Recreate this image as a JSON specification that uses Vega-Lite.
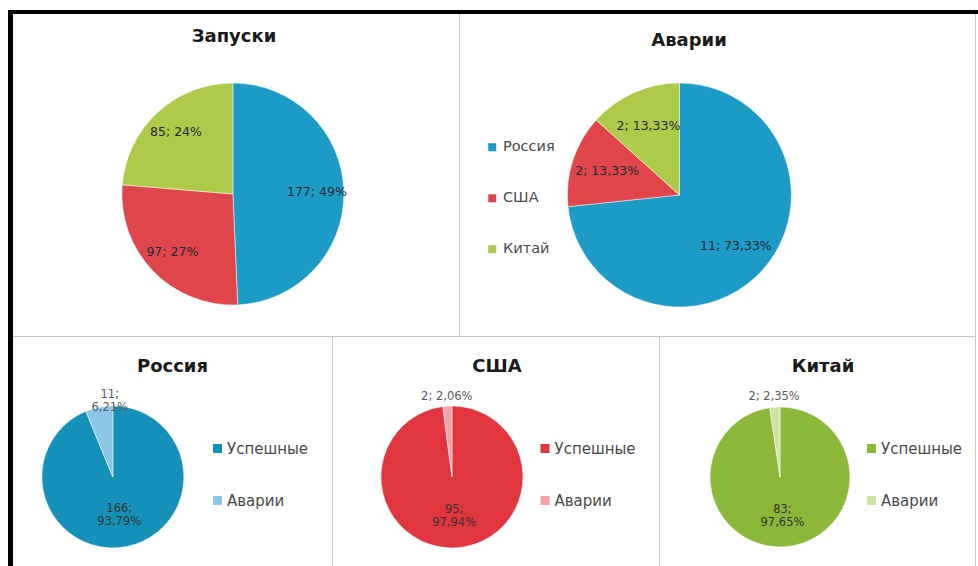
{
  "$schema": "https://vega.github.io/schema/vega-lite/v6.json",
  "padding": 0,
  "background": "white",
  "spacing": 0,
  "resolve": {"scale": {"x": "independent", "y": "independent", "theta": "independent", "color": "independent"}, "legend": {"color": "independent"}},
  "config": {
    "view": {"stroke": null},
    "title": {"font": "DejaVu Sans", "fontSize": 18, "fontWeight": "bold", "color": "#1a1a1a", "anchor": "middle"},
    "legend": {"labelFont": "DejaVu Sans", "labelColor": "#4a4a4a", "symbolType": "square", "symbolStrokeWidth": 0, "padding": 0}
  },
  "datasets": {
    "launches": [
      {"country": "Россия", "value": 177, "label": "177; 49%"},
      {"country": "США", "value": 97, "label": "97; 27%"},
      {"country": "Китай", "value": 85, "label": "85; 24%"}
    ],
    "accidents": [
      {"country": "Россия", "value": 11, "label": "11; 73,33%"},
      {"country": "США", "value": 2, "label": "2; 13,33%"},
      {"country": "Китай", "value": 2, "label": "2; 13,33%"}
    ],
    "russia": [
      {"status": "Успешные", "value": 166, "label": ["166;", "93,79%"]},
      {"status": "Аварии", "value": 11, "label": ["11;", "6,21%"]}
    ],
    "usa": [
      {"status": "Успешные", "value": 95, "label": ["95;", "97,94%"]},
      {"status": "Аварии", "value": 2, "label": "2; 2,06%"}
    ],
    "china": [
      {"status": "Успешные", "value": 83, "label": ["83;", "97,65%"]},
      {"status": "Аварии", "value": 2, "label": "2; 2,35%"}
    ]
  },
  "hconcat": [
    {"width": 8, "height": 566, "data": {"values": [{}]}, "mark": {"type": "point", "size": 0, "opacity": 0}},
    {
      "spacing": 0,
      "resolve": {"scale": {"x": "independent", "y": "independent"}},
      "vconcat": [
        {"width": 5, "height": 10, "data": {"values": [{}]}, "mark": {"type": "point", "size": 0, "opacity": 0}},
        {"width": 5, "height": 556, "data": {"values": [{}]}, "mark": {"type": "point", "size": 0, "opacity": 0}, "view": {"fill": "black"}}
      ]
    },
    {
      "spacing": 0,
      "resolve": {"scale": {"x": "independent", "y": "independent", "theta": "independent", "color": "independent"}, "legend": {"color": "independent"}},
      "vconcat": [
        {"width": 965, "height": 10, "data": {"values": [{}]}, "mark": {"type": "point", "size": 0, "opacity": 0}},
        {"width": 965, "height": 4, "data": {"values": [{}]}, "mark": {"type": "point", "size": 0, "opacity": 0}, "view": {"fill": "black"}},
        {
          "spacing": 0,
          "resolve": {"scale": {"x": "independent", "y": "independent", "theta": "independent", "color": "independent"}, "legend": {"color": "independent"}},
          "hconcat": [
            {
              "width": 446, "height": 322,
              "title": {"text": "Запуски", "offset": -32, "dx": -2},
              "data": {"name": "launches"},
              "encoding": {
                "theta": {"field": "value", "type": "quantitative", "stack": true},
                "order": {"field": "value", "sort": "descending"},
                "x": {"datum": 0.493, "type": "quantitative", "scale": {"domain": [0, 1]}, "axis": null},
                "y": {"datum": 0.559, "type": "quantitative", "scale": {"domain": [0, 1], "reverse": true}, "axis": null}
              },
              "layer": [
                {
                  "mark": {"type": "arc", "outerRadius": 111, "stroke": "white", "strokeWidth": 0.5},
                  "encoding": {
                    "color": {"field": "country", "type": "nominal", "scale": {"domain": ["Россия", "США", "Китай"], "range": ["#1c9bc7", "#e0454c", "#adca48"]}, "legend": null}
                  }
                },
                {
                  "mark": {"type": "text", "radius": 84, "fontSize": 12.5, "font": "DejaVu Sans", "align": "center", "baseline": "middle", "color": "#1d2a33"},
                  "encoding": {"detail": {"field": "country"}, "text": {"field": "label"}}
                }
              ]
            },
            {"width": 1, "height": 322, "data": {"values": [{}]}, "mark": {"type": "point", "size": 0, "opacity": 0}, "view": {"fill": "#c6c6c6"}},
            {
              "width": 515, "height": 322,
              "title": {"text": "Аварии", "offset": -36, "dx": -28.5},
              "data": {"name": "accidents"},
              "encoding": {
                "theta": {"field": "value", "type": "quantitative", "stack": true},
                "order": {"field": "value", "sort": "descending"},
                "x": {"datum": 0.426, "type": "quantitative", "scale": {"domain": [0, 1]}, "axis": null},
                "y": {"datum": 0.562, "type": "quantitative", "scale": {"domain": [0, 1], "reverse": true}, "axis": null}
              },
              "layer": [
                {
                  "mark": {"type": "arc", "outerRadius": 112, "stroke": "white", "strokeWidth": 0.5},
                  "encoding": {
                    "color": {"field": "country", "type": "nominal", "scale": {"domain": ["Россия", "США", "Китай"], "range": ["#1c9bc7", "#e0454c", "#adca48"]},
                      "legend": {"orient": "none", "legendX": 25, "legendY": 126, "title": null, "symbolSize": 64, "labelFontSize": 14.5, "rowPadding": 36, "labelOffset": 3.5}}
                  }
                },
                {
                  "mark": {"type": "text", "radius": 76, "fontSize": 12.5, "font": "DejaVu Sans", "align": "center", "baseline": "middle", "color": "#1d2a33"},
                  "encoding": {"detail": {"field": "country"}, "text": {"field": "label"}}
                }
              ]
            },
            {"width": 1, "height": 322, "data": {"values": [{}]}, "mark": {"type": "point", "size": 0, "opacity": 0}, "view": {"fill": "#c6c6c6"}}
          ]
        },
        {"width": 963, "height": 1, "data": {"values": [{}]}, "mark": {"type": "point", "size": 0, "opacity": 0}, "view": {"fill": "#c6c6c6"}},
        {
          "spacing": 0,
          "resolve": {"scale": {"x": "independent", "y": "independent", "theta": "independent", "color": "independent"}, "legend": {"color": "independent"}},
          "hconcat": [
            {
              "width": 319, "height": 229,
              "title": {"text": "Россия", "offset": -39, "dx": 0},
              "data": {"name": "russia"},
              "encoding": {
                "theta": {"field": "value", "type": "quantitative", "stack": true},
                "order": {"field": "value", "sort": "descending"},
                "x": {"datum": 0.313, "type": "quantitative", "scale": {"domain": [0, 1]}, "axis": null},
                "y": {"datum": 0.611, "type": "quantitative", "scale": {"domain": [0, 1], "reverse": true}, "axis": null}
              },
              "layer": [
                {
                  "mark": {"type": "arc", "outerRadius": 71, "stroke": "white", "strokeWidth": 0.5},
                  "encoding": {
                    "color": {"field": "status", "type": "nominal", "scale": {"domain": ["Успешные", "Аварии"], "range": ["#1591b9", "#8ec6e8"]},
                      "legend": {"orient": "none", "legendX": 197, "legendY": 104, "title": null, "symbolSize": 81, "labelFontSize": 15, "rowPadding": 36, "labelOffset": 2}}
                  }
                },
                {
                  "mark": {"type": "text", "radius": 33, "fontSize": 11.5, "lineHeight": 13, "font": "DejaVu Sans", "align": "center", "baseline": "middle", "color": "#333333"},
                  "encoding": {"detail": {"field": "status"}, "text": {"condition": {"test": "datum.status === 'Успешные'", "field": "label"}, "value": ""}}
                },
                {
                  "mark": {"type": "text", "radius": 83, "dx": 13, "fontSize": 11.5, "lineHeight": 13, "font": "DejaVu Sans", "align": "center", "baseline": "middle", "color": "#5a5a5a"},
                  "encoding": {"detail": {"field": "status"}, "text": {"condition": {"test": "datum.status === 'Аварии'", "field": "label"}, "value": ""}}
                }
              ]
            },
            {"width": 1, "height": 229, "data": {"values": [{}]}, "mark": {"type": "point", "size": 0, "opacity": 0}, "view": {"fill": "#c6c6c6"}},
            {
              "width": 326, "height": 229,
              "title": {"text": "США", "offset": -39, "dx": 1},
              "data": {"name": "usa"},
              "encoding": {
                "theta": {"field": "value", "type": "quantitative", "stack": true},
                "order": {"field": "value", "sort": "descending"},
                "x": {"datum": 0.365, "type": "quantitative", "scale": {"domain": [0, 1]}, "axis": null},
                "y": {"datum": 0.611, "type": "quantitative", "scale": {"domain": [0, 1], "reverse": true}, "axis": null}
              },
              "layer": [
                {
                  "mark": {"type": "arc", "outerRadius": 71, "stroke": "white", "strokeWidth": 0.5},
                  "encoding": {
                    "color": {"field": "status", "type": "nominal", "scale": {"domain": ["Успешные", "Аварии"], "range": ["#e1363f", "#f3a3a9"]},
                      "legend": {"orient": "none", "legendX": 204.5, "legendY": 104, "title": null, "symbolSize": 81, "labelFontSize": 15, "rowPadding": 36, "labelOffset": 2}}
                  }
                },
                {
                  "mark": {"type": "text", "radius": 33, "fontSize": 11.5, "lineHeight": 13, "font": "DejaVu Sans", "align": "center", "baseline": "middle", "color": "#333333"},
                  "encoding": {"detail": {"field": "status"}, "text": {"condition": {"test": "datum.status === 'Успешные'", "field": "label"}, "value": ""}}
                },
                {
                  "mark": {"type": "text", "radius": 80, "fontSize": 11.5, "font": "DejaVu Sans", "align": "center", "baseline": "middle", "color": "#5a5a5a"},
                  "encoding": {"detail": {"field": "status"}, "text": {"condition": {"test": "datum.status === 'Аварии'", "field": "label"}, "value": ""}}
                }
              ]
            },
            {"width": 1, "height": 229, "data": {"values": [{}]}, "mark": {"type": "point", "size": 0, "opacity": 0}, "view": {"fill": "#c6c6c6"}},
            {
              "width": 315, "height": 229,
              "title": {"text": "Китай", "offset": -39, "dx": 5.5},
              "data": {"name": "china"},
              "encoding": {
                "theta": {"field": "value", "type": "quantitative", "stack": true},
                "order": {"field": "value", "sort": "descending"},
                "x": {"datum": 0.381, "type": "quantitative", "scale": {"domain": [0, 1]}, "axis": null},
                "y": {"datum": 0.611, "type": "quantitative", "scale": {"domain": [0, 1], "reverse": true}, "axis": null}
              },
              "layer": [
                {
                  "mark": {"type": "arc", "outerRadius": 70, "stroke": "white", "strokeWidth": 0.5},
                  "encoding": {
                    "color": {"field": "status", "type": "nominal", "scale": {"domain": ["Успешные", "Аварии"], "range": ["#8cb83a", "#cee3a2"]},
                      "legend": {"orient": "none", "legendX": 204, "legendY": 104, "title": null, "symbolSize": 81, "labelFontSize": 15, "rowPadding": 36, "labelOffset": 2}}
                  }
                },
                {
                  "mark": {"type": "text", "radius": 33, "fontSize": 11.5, "lineHeight": 13, "font": "DejaVu Sans", "align": "center", "baseline": "middle", "color": "#333333"},
                  "encoding": {"detail": {"field": "status"}, "text": {"condition": {"test": "datum.status === 'Успешные'", "field": "label"}, "value": ""}}
                },
                {
                  "mark": {"type": "text", "radius": 80, "fontSize": 11.5, "font": "DejaVu Sans", "align": "center", "baseline": "middle", "color": "#5a5a5a"},
                  "encoding": {"detail": {"field": "status"}, "text": {"condition": {"test": "datum.status === 'Аварии'", "field": "label"}, "value": ""}}
                }
              ]
            },
            {"width": 1, "height": 229, "data": {"values": [{}]}, "mark": {"type": "point", "size": 0, "opacity": 0}, "view": {"fill": "#c6c6c6"}}
          ]
        }
      ]
    }
  ]
}
